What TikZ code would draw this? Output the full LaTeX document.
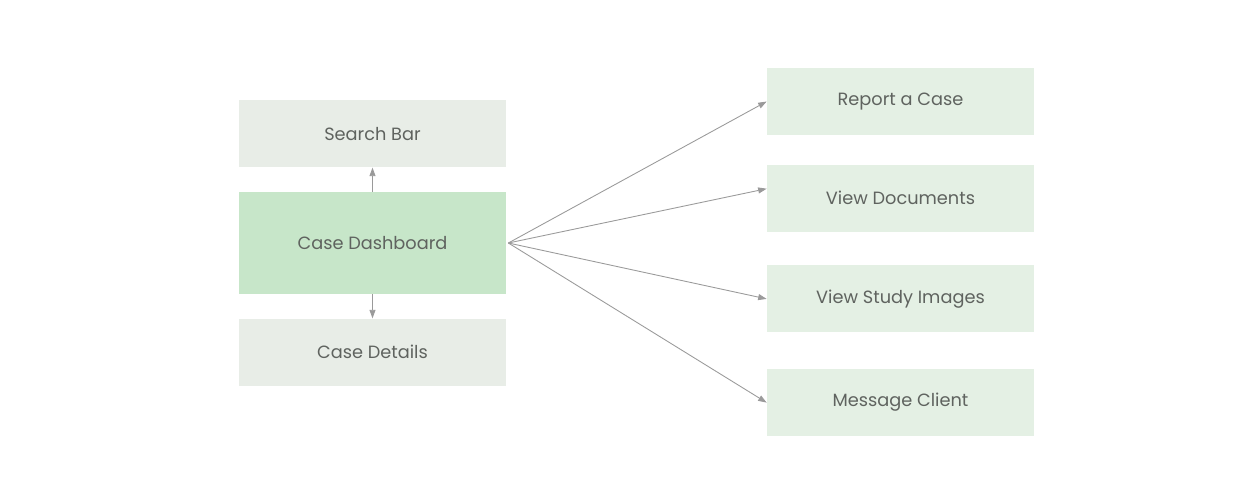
\documentclass[tikz,border=0pt]{standalone}
\usepackage{fontspec}
\setmainfont{Poppins}
\usepackage{tikz}
\usetikzlibrary{positioning, arrows.meta}
\definecolor{sidegray}{HTML}{E8EDE7}
\definecolor{leafgreen}{HTML}{E4F0E4}
\definecolor{maingreen}{HTML}{C7E6C9}
\definecolor{labelgray}{HTML}{5F635F}
\definecolor{linkgray}{HTML}{9A9A9A}
\tikzset{
    side/.style={rectangle, fill=sidegray, minimum width=5.34cm, minimum height=1.34cm, text=labelgray, font=\fontsize{10.1}{12}\selectfont},
    hub/.style={rectangle, fill=maingreen, minimum width=5.34cm, minimum height=2.04cm, text=labelgray, font=\fontsize{10.1}{12}\selectfont},
    leaf/.style={rectangle, fill=leafgreen, minimum width=5.34cm, minimum height=1.34cm, text=labelgray, font=\fontsize{10.1}{12}\selectfont},
    link/.style={draw=linkgray, line width=0.5pt, -{Triangle[length=1.7mm, width=1.2mm]}},
}
\begin{document}
\begin{tikzpicture}
            \useasboundingbox (0,0) rectangle (24.98,-10);
            \node [hub] (dash) at (7.45,-4.86) {Case Dashboard};
            \node [side] (search) [above = 0.48cm of dash] {Search Bar};
            \node [side] (details) [below = 0.48cm of dash] {Case Details};
            \node [leaf] (report) at (18.01,-2.03) {Report a Case};
            \node [leaf] (docs) [below = 0.58cm of report] {View Documents};
            \node [leaf] (images) [below = 0.66cm of docs] {View Study Images};
            \node [leaf] (message) [below = 0.72cm of images] {Message Client};
            \draw[link] (dash.north) -- (search.south);
            \draw[link] (dash.south) -- (details.north);
            \draw[link] ([xshift=0.04cm]dash.east) -- (report.west);
            \draw[link] ([xshift=0.04cm]dash.east) -- ([yshift=0.19cm]docs.west);
            \draw[link] ([xshift=0.04cm]dash.east) -- (images.west);
            \draw[link] ([xshift=0.04cm]dash.east) -- (message.west);
        \end{tikzpicture}
\end{document}
